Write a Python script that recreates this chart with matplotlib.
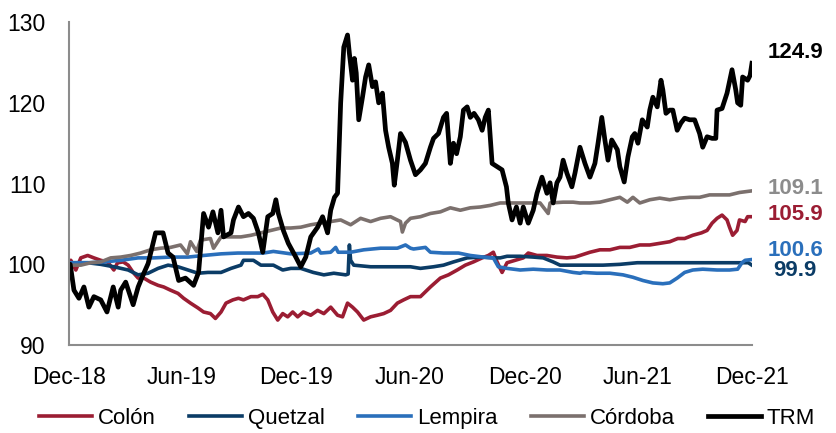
import pandas as pd
import matplotlib
matplotlib.use("Agg")
import matplotlib.pyplot as plt
import matplotlib.dates as mdates

plt.rcParams["font.family"] = ["Liberation Sans", "DejaVu Sans"]

# index, base 100 = end of Dec-2018; x values are days since that date
START = pd.Timestamp("2018-12-31")

colon_days = [0, 3, 11, 19, 30, 40, 51, 62, 72, 78, 87, 95, 103, 111, 120, 131, 143, 152, 163, 175,
              184, 195, 207, 216, 227, 235, 244, 252, 263, 272, 280, 292, 303, 311, 319, 327, 335, 343,
              351, 359, 367, 376, 388, 399, 409, 420, 431, 439, 447, 455, 463, 473, 484, 495, 505, 516,
              527, 537, 548, 564, 580, 596, 609, 623, 636, 649, 663, 673, 681, 687, 695, 703, 716, 729,
              737, 751, 767, 783, 799, 812, 820, 836, 852, 868, 884, 900, 916, 932, 948, 964, 977, 988,
              1001, 1015, 1024, 1032, 1040, 1048, 1056, 1060, 1065, 1072, 1076, 1085, 1089, 1096]
colon_vals = [100.0, 100.5, 99.3, 100.8, 101.1, 100.8, 100.5, 100.3, 99.3, 100.2, 100.3, 99.9, 99.0,
              98.3, 98.3, 97.8, 97.4, 97.2, 96.8, 96.4, 95.8, 95.2, 94.6, 94.1, 93.9, 93.3, 94.1, 95.2,
              95.6, 95.8, 95.6, 96.0, 96.0, 96.3, 95.6, 94.1, 93.1, 93.9, 93.5, 94.1, 93.5, 94.1, 93.7,
              94.3, 93.9, 94.7, 93.7, 93.5, 95.2, 94.7, 94.1, 93.1, 93.5, 93.7, 93.9, 94.3, 95.2, 95.6,
              96.0, 96.0, 97.2, 98.3, 98.7, 99.3, 99.9, 100.3, 100.8, 101.1, 101.5, 100.3, 99.0, 100.2,
              100.5, 100.8, 101.4, 101.1, 101.1, 100.9, 100.8, 100.9, 101.1, 101.5, 101.8, 101.8, 102.1,
              102.1, 102.4, 102.4, 102.6, 102.8, 103.2, 103.2, 103.6, 103.9, 104.2, 105.1, 105.7, 106.1,
              105.5, 104.6, 103.6, 104.2, 105.5, 105.3, 105.9, 105.9]

quetzal_days = [0, 3, 30, 51, 72, 95, 111, 127, 143, 159, 175, 191, 207, 223, 244, 260, 276, 280, 296,
                308, 328, 343, 356, 372, 392, 409, 425, 444, 448, 450, 452, 457, 484, 516, 548, 564, 585,
                601, 617, 639, 660, 681, 692, 703, 724, 745, 761, 777, 788, 804, 820, 857, 884, 912, 937,
                964, 1017, 1072, 1090, 1096]
quetzal_vals = [100.0, 100.2, 100.2, 100.0, 99.7, 99.3, 98.7, 98.9, 99.5, 99.9, 99.7, 99.3, 98.9, 99.0,
                99.0, 99.5, 99.9, 100.5, 100.5, 99.9, 99.9, 99.3, 99.5, 99.5, 99.0, 98.7, 98.9, 98.7,
                98.8, 102.4, 100.5, 99.9, 99.7, 99.7, 99.7, 99.5, 99.7, 99.9, 100.3, 100.8, 100.9, 100.8,
                100.8, 101.0, 101.0, 100.9, 100.8, 100.3, 99.9, 99.9, 99.9, 99.9, 100.0, 100.2, 100.2,
                100.2, 100.2, 100.2, 100.2, 99.9]

lempira_days = [0, 3, 30, 56, 83, 111, 136, 163, 191, 216, 244, 271, 308, 312, 328, 356, 388, 400, 404,
                420, 428, 432, 452, 473, 500, 527, 540, 548, 553, 572, 580, 601, 625, 644, 665, 681, 689,
                703, 724, 745, 767, 788, 809, 820, 825, 847, 868, 889, 905, 921, 937, 953, 964, 976, 988,
                1001, 1017, 1040, 1060, 1073, 1080, 1085, 1096]
lempira_vals = [100.0, 100.2, 100.2, 100.3, 100.5, 100.8, 100.8, 100.9, 100.9, 101.1, 101.3, 101.4,
                101.4, 101.4, 101.6, 101.3, 101.4, 101.9, 101.4, 101.5, 102.1, 101.5, 101.5, 101.8,
                102.0, 102.0, 102.4, 102.0, 101.9, 102.1, 101.5, 101.4, 101.4, 101.1, 100.9, 100.8,
                99.7, 99.5, 99.3, 99.4, 99.3, 99.3, 99.0, 98.9, 99.0, 98.9, 98.9, 98.7, 98.4, 98.0,
                97.7, 97.6, 97.7, 98.3, 99.0, 99.3, 99.4, 99.3, 99.3, 99.4, 100.2, 100.5, 100.6]

cordoba_days = [0, 3, 19, 35, 51, 67, 83, 99, 115, 131, 147, 163, 179, 190, 195, 205, 211, 227, 232,
                244, 260, 276, 292, 308, 324, 340, 356, 372, 388, 404, 420, 436, 452, 468, 484, 500, 516,
                532, 535, 540, 548, 564, 580, 596, 612, 628, 644, 660, 676, 692, 708, 724, 740, 756, 769,
                772, 793, 809, 820, 836, 852, 868, 884, 896, 905, 916, 932, 948, 964, 980, 996, 1012,
                1028, 1044, 1060, 1076, 1096]
cordoba_vals = [100.0, 99.9, 99.9, 100.2, 100.3, 100.8, 100.9, 101.1, 101.4, 101.8, 102.0, 102.1, 102.4,
                101.3, 102.8, 101.6, 103.0, 103.2, 102.0, 103.4, 103.4, 103.4, 103.6, 103.9, 104.2, 104.5,
                104.5, 104.6, 104.9, 105.1, 105.3, 105.5, 104.9, 105.7, 105.3, 105.7, 105.9, 105.3,
                104.0, 105.1, 105.7, 105.9, 106.3, 106.5, 107.0, 106.7, 107.0, 107.1, 107.3, 107.6,
                107.6, 107.6, 107.6, 107.6, 106.3, 107.6, 107.7, 107.7, 107.6, 107.6, 107.7, 108.0,
                108.3, 107.7, 108.3, 107.6, 108.0, 108.2, 108.0, 108.2, 108.3, 108.3, 108.6, 108.6,
                108.6, 108.9, 109.1]

trm_days = [0, 2, 8, 16, 24, 32, 40, 51, 61, 71, 79, 83, 91, 103, 111, 119, 127, 139, 151, 159, 167,
            176, 187, 200, 208, 216, 224, 231, 239, 244, 248, 260, 264, 272, 280, 288, 296, 304, 311,
            319, 327, 332, 336, 344, 352, 364, 372, 380, 388, 399, 407, 415, 420, 426, 431, 436, 441,
            447, 450, 455, 458, 461, 465, 471, 476, 481, 487, 492, 497, 503, 508, 513, 519, 522, 527,
            532, 540, 548, 556, 564, 572, 580, 585, 593, 601, 606, 612, 617, 622, 628, 633, 639, 644,
            650, 657, 663, 668, 673, 679, 687, 695, 702, 705, 711, 718, 724, 729, 737, 745, 751, 759,
            767, 772, 777, 783, 788, 793, 799, 807, 812, 820, 828, 836, 844, 849, 855, 860, 865, 871,
            880, 884, 891, 897, 904, 908, 913, 920, 928, 932, 937, 944, 950, 953, 958, 964, 969, 976,
            982, 988, 996, 1004, 1012, 1017, 1024, 1032, 1038, 1040, 1048, 1056, 1064, 1070, 1073,
            1078, 1081, 1089, 1093, 1096]
trm_vals = [100.0, 100.0, 96.8, 95.8, 97.2, 94.7, 96.0, 95.6, 94.1, 97.2, 94.7, 96.8, 97.8, 95.0, 97.2,
            98.7, 100.1, 103.9, 103.9, 101.4, 100.9, 98.0, 98.3, 97.4, 99.0, 106.3, 104.6, 106.5, 103.9,
            106.7, 103.4, 103.9, 105.5, 107.1, 105.9, 106.3, 105.7, 103.9, 101.5, 105.9, 106.3, 108.0,
            106.3, 104.2, 102.6, 100.9, 99.7, 100.9, 103.4, 104.6, 105.9, 103.9, 106.7, 108.3, 108.8,
            120.0, 126.9, 128.4, 126.1, 122.8, 125.5, 123.7, 117.9, 120.7, 123.2, 124.7, 122.0, 122.6,
            120.0, 121.2, 116.6, 114.5, 112.5, 109.8, 112.9, 116.2, 115.1, 112.9, 111.1, 111.7, 112.5,
            114.5, 115.6, 116.2, 118.2, 118.7, 112.5, 115.0, 113.7, 115.8, 119.1, 119.5, 118.2, 118.7,
            117.9, 116.6, 118.2, 119.1, 112.5, 112.1, 111.7, 109.6, 107.6, 105.5, 107.1, 105.1, 107.1,
            105.1, 106.7, 108.8, 110.8, 108.8, 110.1, 107.6, 110.1, 110.8, 112.9, 111.3, 109.6, 111.3,
            114.5, 112.5, 110.8, 112.5, 115.0, 118.2, 115.4, 112.9, 115.4, 114.2, 112.1, 110.2, 113.3,
            115.8, 116.2, 115.0, 117.9, 117.0, 119.1, 120.7, 119.5, 122.8, 121.6, 118.7, 119.1, 119.1,
            116.6, 117.5, 118.1, 117.9, 117.9, 116.2, 114.5, 115.8, 115.6, 115.6, 119.1, 119.3, 121.2,
            124.1, 121.6, 120.0, 119.7, 123.2, 122.8, 123.4, 124.9]

names = ["Colón", "Quetzal", "Lempira", "Córdoba", "TRM"]
days = [colon_days, quetzal_days, lempira_days, cordoba_days, trm_days]
vals = [colon_vals, quetzal_vals, lempira_vals, cordoba_vals, trm_vals]
colors = ["#9b1d33", "#0b3c66", "#2a6fbb", "#7b706d", "#000000"]
label_colors = ["#9b1d33", "#0b3c66", "#2a6fbb", "#8c8c8c", "#000000"]
widths = [2.6, 2.6, 2.6, 2.6, 3.4]
# end label nudges (points): x, y
label_shift = [(11.5, 1.5), (15, -3.5), (11.5, 6.5), (11.5, 2.0), (11.5, 8.0)]

fig = plt.figure(figsize=(8.37, 4.33), dpi=100)
ax = fig.add_axes([0.0824, 0.203, 0.816, 0.746])

for name, d, v, c, lw in zip(names, days, vals, colors, widths):
    dates = START + pd.to_timedelta(d, unit="D")
    ax.plot(dates, v, color=c, lw=lw, label=name, solid_joinstyle="round")

for d, v, lc, (dx, dy) in zip(days, vals, label_colors, label_shift):
    end = START + pd.Timedelta(days=d[-1])
    ax.annotate(f"{v[-1]:.1f}", xy=(end, v[-1]), xytext=(dx, dy), textcoords="offset points",
                ha="left", va="center", fontsize=16, fontweight="bold", color=lc,
                annotation_clip=False)

ax.set_ylim(90, 130)
ax.set_yticks([90, 100, 110, 120, 130])
ax.set_xlim(START, pd.Timestamp("2021-12-31"))
ticks = pd.to_datetime(["2018-12-31", "2019-06-30", "2019-12-31", "2020-06-30",
                        "2020-12-31", "2021-06-30", "2021-12-31"])
ax.set_xticks(ticks)
ax.xaxis.set_major_formatter(mdates.DateFormatter("%b-%y"))
ax.tick_params(axis="both", length=0, labelsize=16.5)
ax.tick_params(axis="x", pad=15)
ax.tick_params(axis="y", pad=17)

for side in ["top", "right"]:
    ax.spines[side].set_visible(False)
for side in ["left", "bottom"]:
    ax.spines[side].set_color("#8c8c8c")
    ax.spines[side].set_linewidth(1.5)

fig.legend(loc="center", bbox_to_anchor=(0.51, 0.033), ncol=5, frameon=False, fontsize=16,
           handlelength=2.4, handletextpad=0.25, columnspacing=1.5)

fig.savefig("out.png", dpi=100)
